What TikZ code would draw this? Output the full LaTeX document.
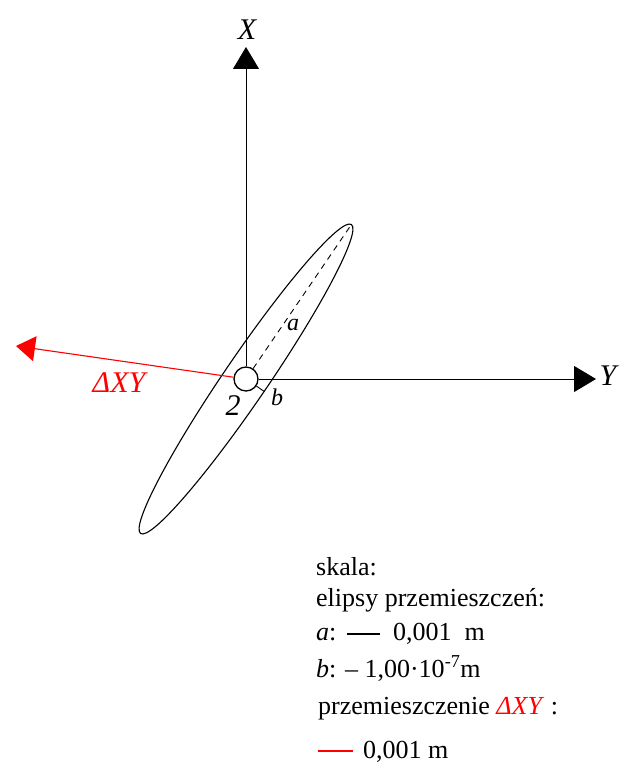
\documentclass[tikz,border=0pt]{standalone}
\usepackage{fontspec}
\setmainfont{Liberation Serif}
\usetikzlibrary{arrows.meta,calc}
\begin{document}
\begin{tikzpicture}[x=1pt,y=-1pt,
  axis/.style={line width=1pt, -{Triangle[length=22pt,width=26pt]}},
  dxy/.style={red, line width=1.1pt, -{Triangle[length=19pt,width=25pt]}},
  biglbl/.style={font=\fontsize{30}{34}\selectfont\itshape, inner sep=0pt},
  smalllbl/.style={font=\fontsize{24}{28}\selectfont\itshape, inner sep=0pt},
  leg/.style={font=\fontsize{26}{30}\selectfont, anchor=base west, inner sep=0pt},
  ptnode/.style={circle, draw, fill=white, line width=1.3pt, minimum size=24pt, inner sep=0pt}]
\useasboundingbox (0,0) rectangle (629,776);
% ellipse
\draw[line width=1.1pt, shift={(246,379)}, rotate=55.7] (0,0) ellipse [x radius=187, y radius=22];
\node[ptnode] (n2) at (246,379) {};
\coordinate (xt) at (246,47);
\coordinate (yt) at (596,379);
\coordinate (dt) at (16,346);
\coordinate (aend) at (351.4,224.5);
\coordinate (bend) at (264.2,391.4);
\draw[axis] (n2) -- (xt);
\draw[axis] (n2.east) -- (yt);
\draw[dxy] (n2) -- (dt);
\draw[line width=0.9pt, dash pattern=on 6pt off 5pt] (n2) -- (aend);
\draw[line width=0.9pt] (n2) -- (bend);
% labels
\node[biglbl] (lx) at (247,30) {X};
\node[biglbl] (ly) at (608,376) {Y};
\node[biglbl, red] (ldxy) at (119,383) {ΔXY};
\node[biglbl] (l2) at (233,406) {2};
\node[smalllbl] (la) at (293,325) {a};
\node[smalllbl] (lb) at (277,397) {b};
% legend
\node[leg] (s1) at (316,575) {skala:};
\node[leg] (s2) at (316,606) {elipsy przemieszczeń:};
\node[leg] (s3a) at (316,640) {\textit{a}:};
\coordinate (la1) at (347,634);
\coordinate (la2) at (380,634);
\draw[line width=1.2pt] (la1) -- (la2);
\node[leg] (s3b) at (393,640) {0,001\ \ m};
\node[leg] (s4) at (316,677) {\textit{b}: – 1,00·10\textsuperscript{-7}m};
\node[leg] (s5) at (318,714) {przemieszczenie \textcolor{red}{\textit{ΔXY}} :};
\coordinate (lr1) at (318,751);
\coordinate (lr2) at (353,751);
\draw[red, line width=2pt] (lr1) -- (lr2);
\node[leg] (s6) at (363,758) {0,001 m};
\end{tikzpicture}
\end{document}
